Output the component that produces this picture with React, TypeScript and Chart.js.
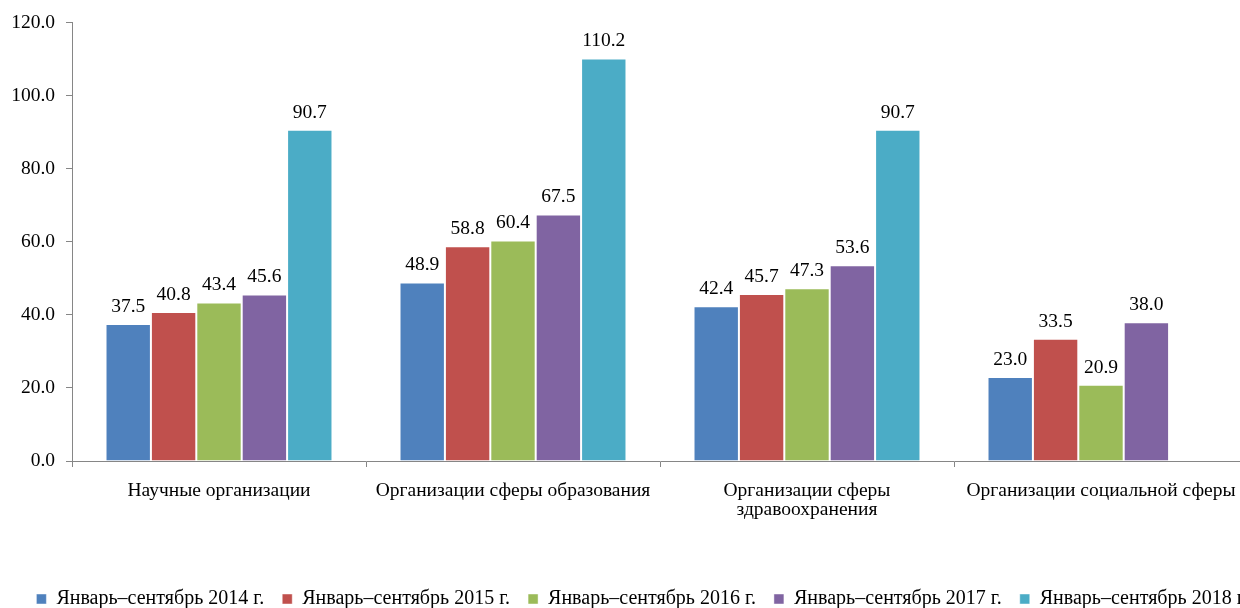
import React, { useEffect, useRef } from "react";
import { Chart, registerables } from "chart.js";

Chart.register(...registerables);

const categories: (string | string[])[] = [
  "Научные организации",
  "Организации сферы образования",
  ["Организации сферы", "здравоохранения"],
  "Организации социальной сферы",
];

const seriesNames = [
  "Январь–сентябрь 2014 г.",
  "Январь–сентябрь 2015 г.",
  "Январь–сентябрь 2016 г.",
  "Январь–сентябрь 2017 г.",
  "Январь–сентябрь 2018 г.",
];

const s2014 = [37.5, 48.9, 42.4, 23.0];
const s2015 = [40.8, 58.8, 45.7, 33.5];
const s2016 = [43.4, 60.4, 47.3, 20.9];
const s2017 = [45.6, 67.5, 53.6, 38.0];
const s2018: (number | null)[] = [90.7, 110.2, 90.7, null];

const colors = ["#4F81BD", "#C0504D", "#9BBB59", "#8064A2", "#4BACC6"];

const yMin = 0;
const yMax = 120;
const yStep = 20;

const FONT = '"Liberation Serif", "Times New Roman", serif';
const FS = 19.5;

const valueLabels = {
  id: "valueLabels",
  afterDatasetsDraw(chart: any) {
    const ctx = chart.ctx;
    ctx.save();
    ctx.font = `${FS}px ${FONT}`;
    ctx.fillStyle = "#000";
    ctx.textAlign = "center";
    ctx.textBaseline = "alphabetic";
    chart.data.datasets.forEach((ds: any, di: number) => {
      const meta = chart.getDatasetMeta(di);
      meta.data.forEach((el: any, i: number) => {
        const v = ds.data[i];
        if (v === null || v === undefined) return;
        ctx.fillText(Number(v).toFixed(1), el.x, el.y - 12);
      });
    });
    ctx.restore();
  },
};

export default function App() {
  const ref = useRef<HTMLCanvasElement | null>(null);

  useEffect(() => {
    if (!ref.current) return;
    Chart.defaults.font.family = FONT;
    Chart.defaults.font.size = FS;
    Chart.defaults.color = "#000";
    const all = [s2014, s2015, s2016, s2017, s2018];
    const chart = new Chart(ref.current, {
      type: "bar",
      data: {
        labels: categories,
        datasets: all.map((d, i) => ({
          label: seriesNames[i],
          data: d,
          backgroundColor: colors[i],
          borderColor: "rgba(255,255,255,0.45)",
          borderWidth: 1,
          barPercentage: 1,
          categoryPercentage: 0.772,
        })),
      },
      options: {
        responsive: false,
        animation: false,
        layout: { padding: { top: 13, left: 0, right: 0, bottom: 0 } },
        plugins: {
          tooltip: { enabled: false },
          legend: {
            position: "bottom",
            labels: {
              boxWidth: 10,
              boxHeight: 10,
              padding: 18,
              color: "#000",
              font: { size: 20, family: FONT },
            },
          },
        },
        scales: {
          x: {
            grid: {
              display: true,
              offset: true,
              drawOnChartArea: false,
              drawTicks: true,
              tickLength: 6,
              color: "#868686",
            },
            border: { display: true, color: "#868686", width: 1 },
            ticks: {
              maxRotation: 0,
              autoSkip: false,
              padding: 14,
              color: "#000",
              font: { size: FS, family: FONT, lineHeight: 1.0 },
            },
            afterFit: (s: any) => {
              s.height = 110;
            },
          },
          y: {
            min: yMin,
            max: yMax,
            grid: {
              display: true,
              drawOnChartArea: false,
              drawTicks: true,
              tickLength: 6,
              color: "#868686",
            },
            border: { display: true, color: "#868686", width: 1 },
            ticks: {
              stepSize: yStep,
              padding: 11,
              color: "#000",
              font: { size: FS, family: FONT },
              callback: (v: any) => Number(v).toFixed(1),
            },
            afterFit: (s: any) => {
              s.width = 72;
            },
          },
          yR: {
            type: "linear",
            position: "right",
            display: true,
            grid: { display: false },
            ticks: { display: false },
            border: { display: false },
            afterFit: (s: any) => {
              s.width = 36;
            },
          },
        },
      } as any,
      plugins: [valueLabels],
    });
    return () => chart.destroy();
  }, []);

  return (
    <div
      style={{
        position: "fixed",
        left: 0,
        top: 0,
        width: 1240,
        height: 608,
        overflow: "hidden",
        background: "#fff",
      }}
    >
      <canvas ref={ref} width={1284} height={619} style={{ display: "block" }} />
    </div>
  );
}
